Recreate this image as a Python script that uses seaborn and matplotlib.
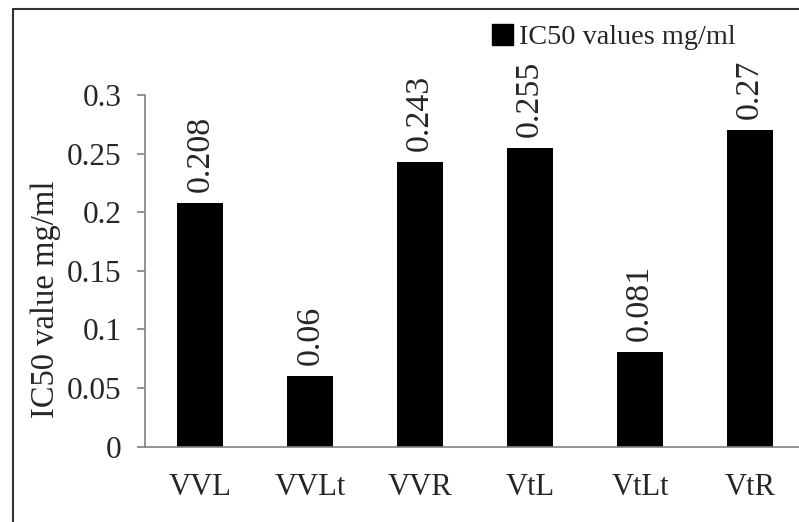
import matplotlib
matplotlib.use("Agg")
import matplotlib.pyplot as plt
import matplotlib.patches as mpatches
from matplotlib.ticker import FixedLocator
import seaborn as sns
import pandas as pd

# Extract codes and their IC50 values (mg/ml)
samples = ["VVL", "VVLt", "VVR", "VtL", "VtLt", "VtR"]
ic50 = [0.208, 0.06, 0.243, 0.255, 0.081, 0.27]
value_labels = ["0.208", "0.06", "0.243", "0.255", "0.081", "0.27"]
y_ticks = [0, 0.05, 0.1, 0.15, 0.2, 0.25, 0.3]
y_tick_labels = ["0", "0.05", "0.1", "0.15", "0.2", "0.25", "0.3"]

sns.set_style("white")
plt.rcParams["font.family"] = ["Liberation Serif", "DejaVu Serif"]

df = pd.DataFrame({"sample": samples, "ic50": ic50})

fig = plt.figure(figsize=(7.99, 5.22), dpi=100)
ax = fig.add_axes([145 / 799, 75.3 / 522, 660 / 799, 351.7 / 522])

sns.barplot(data=df, x="sample", y="ic50", color="black", width=0.42,
            saturation=1, ax=ax, edgecolor="black", linewidth=0)

ax.set_ylim(0, 0.3)
ax.set_xlim(-0.5, 5.5)
ax.set_yticks(y_ticks)
ax.set_yticklabels(y_tick_labels)

# category separators as x tick marks, labels centred under the bars
ax.xaxis.set_minor_locator(FixedLocator([i - 0.5 for i in range(len(samples) + 1)]))
ax.tick_params(axis="x", which="major", length=0, pad=19, labelsize=22)
ax.tick_params(axis="x", which="minor", length=6, width=1.2, color="#808080", direction="out")
ax.tick_params(axis="y", which="major", length=6, width=1.2, color="#808080",
               direction="out", pad=11, labelsize=22.5, left=True)

for side in ["top", "right"]:
    ax.spines[side].set_visible(False)
for side in ["left", "bottom"]:
    ax.spines[side].set_color("#808080")
    ax.spines[side].set_linewidth(1.2)

ax.set_xlabel("")
ax.set_ylabel("IC50 value mg/ml", fontsize=23.5)
ax.yaxis.set_label_coords(-0.128, 0.42)

ax.bar_label(ax.containers[0], labels=value_labels, rotation=90,
             padding=8, fontsize=24.5)

handle = mpatches.Patch(facecolor="black", edgecolor="black")
fig.legend(handles=[handle], labels=["IC50 values mg/ml"], loc="center left",
           bbox_to_anchor=(492 / 799, (522 - 37) / 522), frameon=False,
           fontsize=20.3, handlelength=0.75, handleheight=0.75,
           handletextpad=0.2, borderpad=0, borderaxespad=0)

# outer frame of the figure
frame = mpatches.Rectangle((12.5 / 799, -0.2), 2, (522 - 9) / 522 + 0.2,
                           transform=fig.transFigure, fill=False,
                           edgecolor="#333333", linewidth=1.5, clip_on=False)
fig.patches.append(frame)

fig.savefig("out.png", dpi=100)
